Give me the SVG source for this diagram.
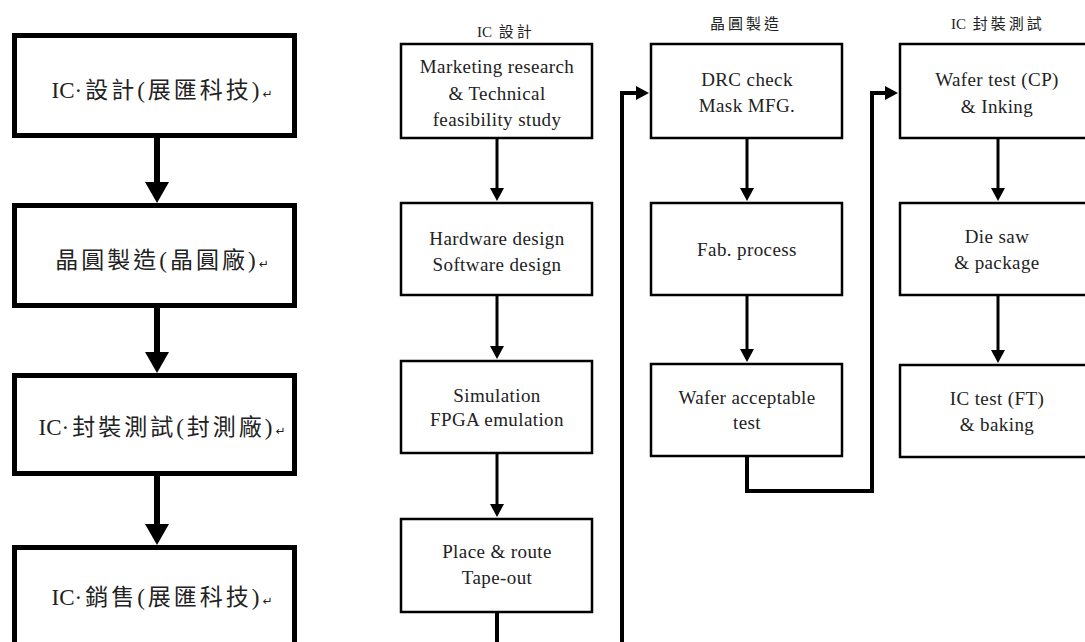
<svg xmlns="http://www.w3.org/2000/svg" width="1085" height="642" viewBox="0 0 1085 642">
<defs>
<style>
.bigbox{fill:#fff;stroke:#000;stroke-width:5}
.box{fill:#fff;stroke:#000;stroke-width:2.5}
.cjk{font-family:"Liberation Serif","Noto Sans CJK TC",serif;font-size:23px;letter-spacing:3px;text-anchor:middle;fill:#222}
.ret{font-family:"DejaVu Sans",sans-serif;font-size:12px;letter-spacing:0}
.ic{letter-spacing:0}
.t{font-family:"Liberation Serif","Times New Roman",serif;font-size:19px;letter-spacing:0.4px;text-anchor:middle;fill:#222}
.title{font-family:"Liberation Serif","Noto Sans CJK TC",serif;font-size:15px;letter-spacing:3px;text-anchor:middle;fill:#222}
.conn{fill:none;stroke:#000;stroke-width:3}
.thick{fill:none;stroke:#000;stroke-width:4}
.bigconn{fill:none;stroke:#000;stroke-width:6}
</style>
<marker id="ah" markerUnits="userSpaceOnUse" markerWidth="14" markerHeight="14" refX="7" refY="7" orient="auto">
<path d="M0,0 L13,7 L0,14 z" fill="#000"/>
</marker>
<marker id="bh" markerUnits="userSpaceOnUse" markerWidth="22" markerHeight="24" refX="10" refY="12" orient="auto">
<path d="M0,0 L21,12 L0,24 z" fill="#000"/>
</marker>
</defs>
<rect width="1085" height="642" fill="#fff"/>

<g id="connectors">
<path class="bigconn" d="M157,137 V192" marker-end="url(#bh)"/>
<path class="bigconn" d="M157,307 V362" marker-end="url(#bh)"/>
<path class="bigconn" d="M157,475 V534" marker-end="url(#bh)"/>

<path class="conn" d="M497,139 V195" marker-end="url(#ah)"/>
<path class="conn" d="M497,296 V353" marker-end="url(#ah)"/>
<path class="conn" d="M497,454 V511" marker-end="url(#ah)"/>
<path class="thick" d="M497,613 V660 H622 V93 H643" marker-end="url(#ah)"/>

<path class="conn" d="M747,139 V195" marker-end="url(#ah)"/>
<path class="conn" d="M747,296 V356" marker-end="url(#ah)"/>
<path class="thick" d="M747,457 V491 H872 V93 H892" marker-end="url(#ah)"/>

<path class="conn" d="M998,139 V195" marker-end="url(#ah)"/>
<path class="conn" d="M998,296 V357" marker-end="url(#ah)"/>
</g>

<g id="n-left-1">
<rect class="bigbox" x="14.5" y="35.5" width="280" height="100"/>
<text class="cjk" x="162" y="98"><tspan class="ic">IC</tspan>·設計(展匯科技)<tspan class="ret">↵</tspan></text>
</g>
<g id="n-left-2">
<rect class="bigbox" x="14.5" y="205.5" width="280" height="100"/>
<text class="cjk" x="162" y="268">晶圓製造(晶圓廠)<tspan class="ret">↵</tspan></text>
</g>
<g id="n-left-3">
<rect class="bigbox" x="14.5" y="375.5" width="280" height="98"/>
<text class="cjk" x="162" y="435"><tspan class="ic">IC</tspan>·封裝測試(封測廠)<tspan class="ret">↵</tspan></text>
</g>
<g id="n-left-4">
<rect class="bigbox" x="14.5" y="547.5" width="280" height="120"/>
<text class="cjk" x="162" y="605"><tspan class="ic">IC</tspan>·銷售(展匯科技)<tspan class="ret">↵</tspan></text>
</g>

<g id="title-design"><text class="title" x="506" y="37"><tspan class="ic">IC</tspan> 設計</text></g>
<g id="title-fab"><text class="title" x="746" y="29">晶圓製造</text></g>
<g id="title-pkg"><text class="title" x="998" y="29"><tspan class="ic">IC</tspan> 封裝測試</text></g>

<g id="n-market">
<rect class="box" x="401" y="44" width="191" height="94"/>
<text class="t" x="497" y="73">Marketing research</text>
<text class="t" x="497" y="100">&amp; Technical</text>
<text class="t" x="497" y="126">feasibility study</text>
</g>
<g id="n-hw">
<rect class="box" x="401" y="203" width="191" height="92"/>
<text class="t" x="497" y="245">Hardware design</text>
<text class="t" x="497" y="271">Software design</text>
</g>
<g id="n-sim">
<rect class="box" x="401" y="361" width="191" height="92"/>
<text class="t" x="497" y="402">Simulation</text>
<text class="t" x="497" y="426">FPGA emulation</text>
</g>
<g id="n-place">
<rect class="box" x="401" y="519" width="191" height="93"/>
<text class="t" x="497" y="558">Place &amp; route</text>
<text class="t" x="497" y="584">Tape-out</text>
</g>

<g id="n-drc">
<rect class="box" x="651" y="44" width="191" height="94"/>
<text class="t" x="747" y="86">DRC check</text>
<text class="t" x="747" y="112">Mask MFG.</text>
</g>
<g id="n-fab">
<rect class="box" x="651" y="203" width="191" height="92"/>
<text class="t" x="747" y="256">Fab. process</text>
</g>
<g id="n-wat">
<rect class="box" x="651" y="364" width="191" height="92"/>
<text class="t" x="747" y="404">Wafer acceptable</text>
<text class="t" x="747" y="429">test</text>
</g>

<g id="n-cp">
<rect class="box" x="900" y="44" width="195" height="94"/>
<text class="t" x="997" y="86">Wafer test (CP)</text>
<text class="t" x="997" y="113">&amp; Inking</text>
</g>
<g id="n-saw">
<rect class="box" x="900" y="203" width="195" height="92"/>
<text class="t" x="997" y="243">Die saw</text>
<text class="t" x="997" y="269">&amp; package</text>
</g>
<g id="n-ft">
<rect class="box" x="900" y="365" width="195" height="92"/>
<text class="t" x="997" y="405">IC test (FT)</text>
<text class="t" x="997" y="431">&amp; baking</text>
</g>
</svg>
